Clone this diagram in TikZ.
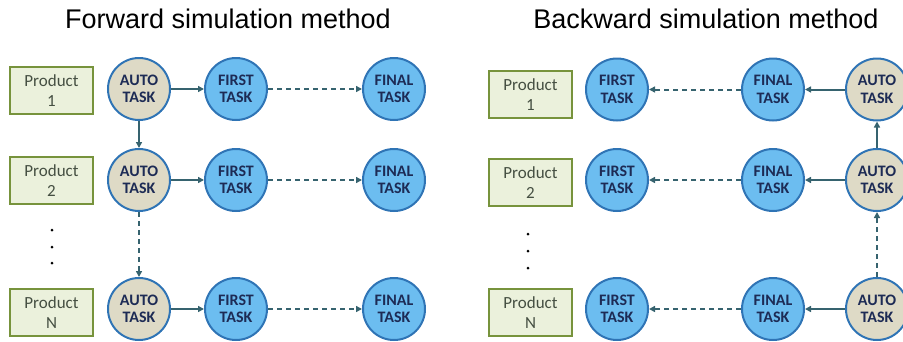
\documentclass[tikz,border=0pt]{standalone}
\usepackage{fontspec}
\setmainfont{Liberation Sans}
\newfontfamily\taskfont{Carlito}
\usetikzlibrary{shapes,arrows.meta,positioning}

\definecolor{taskblue}{HTML}{6CBDF0}
\definecolor{rimblue}{HTML}{2F74B5}
\definecolor{autobeige}{HTML}{DEDAC6}
\definecolor{prodgreen}{HTML}{EBF1DC}
\definecolor{prodrim}{HTML}{77933C}
\definecolor{linkteal}{HTML}{36636F}
\definecolor{tasktext}{HTML}{1D2B55}
\definecolor{prodtext}{HTML}{454F42}

\tikzset{
    task/.style={circle, draw=rimblue, line width=2pt, fill=taskblue,
        minimum size=62pt, inner sep=0pt, align=center, text=tasktext,
        font=\taskfont\bfseries\fontsize{16}{17.5}\selectfont},
    autotask/.style={task, fill=autobeige},
    prodbox/.style={rectangle, draw=prodrim, line width=2.5pt, fill=prodgreen,
        minimum width=83pt, minimum height=47pt, align=center, text=prodtext,
        font=\taskfont\fontsize{17}{20}\selectfont},
    link/.style={draw=linkteal, line width=2pt, -{Triangle[length=6pt,width=6pt]}},
    dlink/.style={link, dash pattern=on 5pt off 4pt},
    vdots/.style={circle, fill=black, inner sep=0pt, minimum size=3pt}
}

\begin{document}
\begin{tikzpicture}[x=1pt, y=-1pt]
    \useasboundingbox (0,0) rectangle (903,341);

    % Titles
    \node[font=\fontsize{27}{30}\selectfont] (fwdtitle) at (228,19) {Forward simulation method};
    \node[font=\fontsize{27}{30}\selectfont] (bwdtitle) at (706,19) {Backward simulation method};

    % Forward method: nodes
    \node[prodbox] (fp1) at (51.5,90.5) {Product\\1};
    \node[prodbox] (fp2) at (51.5,180.5) {Product\\2};
    \node[prodbox] (fpn) at (51.5,312.5) {Product\\N};
    \node[vdots] (fd1) at (52,230) {};
    \node[vdots] (fd2) at (52,247) {};
    \node[vdots] (fd3) at (52,263) {};

    \node[autotask] (fa1) at (139,89) {AUTO\\TASK};
    \node[autotask] (fa2) at (139,180) {AUTO\\TASK};
    \node[autotask] (fan) at (139,309) {AUTO\\TASK};
    \node[task] (ff1) at (236,89) {FIRST\\TASK};
    \node[task] (ff2) at (236,180) {FIRST\\TASK};
    \node[task] (ffn) at (236,309) {FIRST\\TASK};
    \node[task] (fl1) at (394,89) {FINAL\\TASK};
    \node[task] (fl2) at (394,180) {FINAL\\TASK};
    \node[task] (fln) at (394,309) {FINAL\\TASK};

    % Forward method: connectors
    \draw[link] (fa1) -- (ff1);
    \draw[link] (fa2) -- (ff2);
    \draw[link] (fan) -- (ffn);
    \draw[dlink] (ff1) -- (fl1);
    \draw[dlink] (ff2) -- (fl2);
    \draw[dlink] (ffn) -- (fln);
    \draw[link] (fa1) -- (fa2);
    \draw[dlink] (fa2) -- (fan);

    % Backward method: nodes
    \node[prodbox] (bp1) at (530.5,94.5) {Product\\1};
    \node[prodbox] (bp2) at (530.5,182.5) {Product\\2};
    \node[prodbox] (bpn) at (530.5,312.5) {Product\\N};
    \node[vdots] (bd1) at (528,234) {};
    \node[vdots] (bd2) at (528,251) {};
    \node[vdots] (bd3) at (528,268) {};

    \node[task] (bf1) at (617,89.5) {FIRST\\TASK};
    \node[task] (bf2) at (617,180) {FIRST\\TASK};
    \node[task] (bfn) at (617,309) {FIRST\\TASK};
    \node[task] (bl1) at (773,89.5) {FINAL\\TASK};
    \node[task] (bl2) at (773,180) {FINAL\\TASK};
    \node[task] (bln) at (773,309) {FINAL\\TASK};
    \node[autotask] (ba1) at (877,89.5) {AUTO\\TASK};
    \node[autotask] (ba2) at (877,180) {AUTO\\TASK};
    \node[autotask] (ban) at (877,309) {AUTO\\TASK};

    % Backward method: connectors
    \draw[link] (ba1) -- (bl1);
    \draw[link] (ba2) -- (bl2);
    \draw[link] (ban) -- (bln);
    \draw[dlink] (bl1) -- (bf1);
    \draw[dlink] (bl2) -- (bf2);
    \draw[dlink] (bln) -- (bfn);
    \draw[link] (ba2) -- (ba1);
    \draw[dlink] (ban) -- (ba2);
\end{tikzpicture}
\end{document}
